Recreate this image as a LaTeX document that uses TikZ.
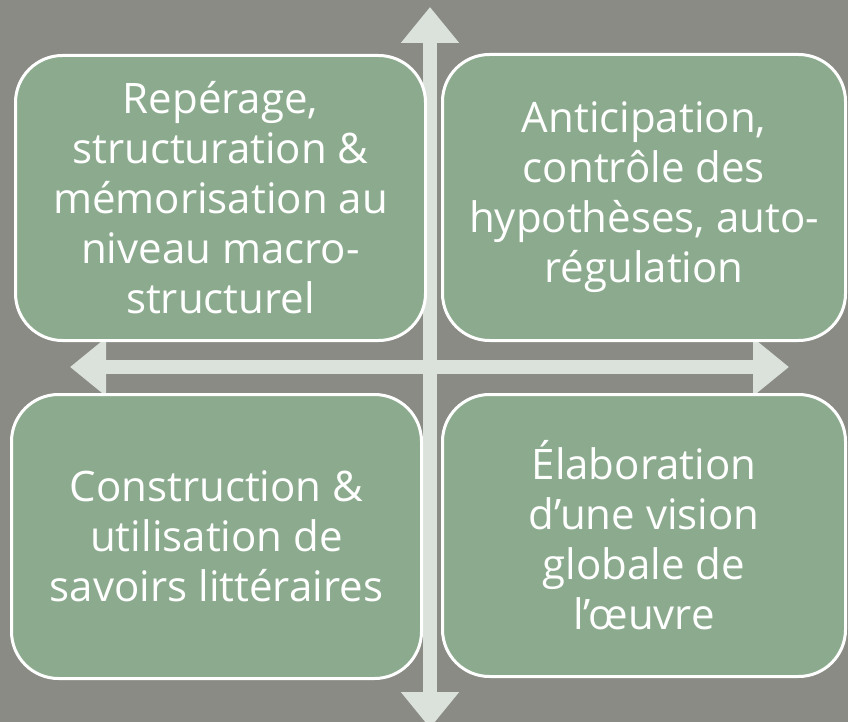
\documentclass[tikz,border=0pt]{standalone}
\usepackage{fontspec}
\setmainfont{Open Sans}
\usetikzlibrary{arrows.meta}
\definecolor{bgcol}{HTML}{8B8B85}
\definecolor{boxcol}{HTML}{8CAB8E}
\definecolor{arrcol}{HTML}{DAE2DB}
\tikzset{
  qbox/.style={draw=white, line width=3pt, fill=boxcol, rounded corners=47pt,
    text=white, align=center, inner sep=0pt,
    font=\fontsize{42}{50}\selectfont},
  axis/.style={draw=arrcol, line width=14pt,
    {Triangle[length=36pt,width=56pt]}-{Triangle[length=36pt,width=56pt]}}
}
\begin{document}
\begin{tikzpicture}[x=1pt,y=-1pt]
\fill[bgcol] (0,0) rectangle (848,722);
\useasboundingbox (0,0) rectangle (848,722);
\coordinate (N) at (430,7);
\coordinate (S) at (430,728);
\coordinate (W) at (70,367);
\coordinate (E) at (789,367);
\draw[axis] (N) -- (S);
\draw[axis] (W) -- (E);
\node[qbox, minimum width=410pt, minimum height=285pt] (tl) at (220.5,198)
  {Repérage,\\structuration \&\\mémorisation au\\niveau macro-\\structurel};
\node[qbox, minimum width=403pt, minimum height=286pt] (tr) at (644,197.5)
  {Anticipation,\\contrôle des\\hypothèses, auto-\\régulation};
\node[qbox, minimum width=410pt, minimum height=284pt] (bl) at (216.5,536.5)
  {Construction \&\\utilisation de\\savoirs littéraires};
\node[qbox, minimum width=403pt, minimum height=282pt] (br) at (644,535.5)
  {Élaboration\\d’une vision\\globale de\\l’œuvre};
\end{tikzpicture}
\end{document}
